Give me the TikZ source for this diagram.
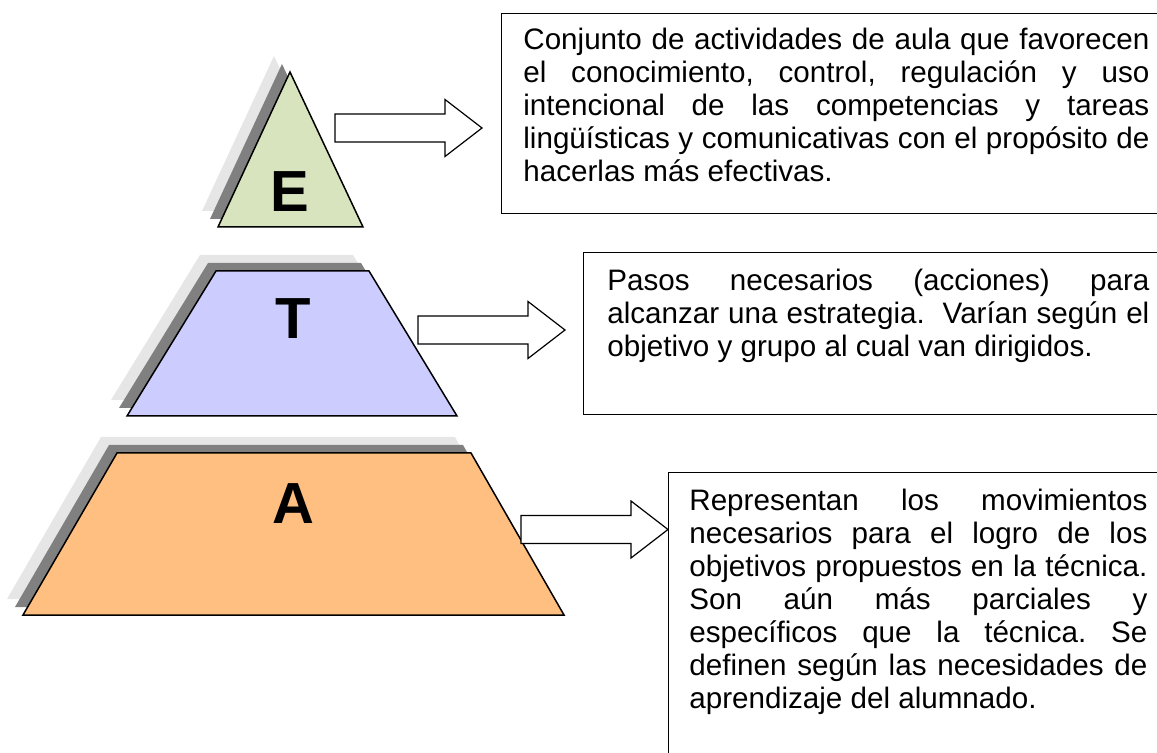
\documentclass[tikz,border=0pt]{standalone}
\usepackage{fontspec}
\setmainfont{Liberation Sans}
\usetikzlibrary{positioning}
\definecolor{fillE}{HTML}{D7E4BD}
\definecolor{fillT}{HTML}{CCCCFF}
\definecolor{fillA}{HTML}{FFBF80}
\definecolor{shadowgray}{HTML}{808080}
\definecolor{shadowlight}{HTML}{E6E6E6}
\tolerance=10000
\hbadness=10000
\frenchspacing
\tikzset{
  level/.style={draw,line width=0.75pt,line join=miter},
  letter/.style={font=\fontsize{29}{30}\selectfont\bfseries},
  infobox/.style={draw,line width=0.7pt,anchor=north west,inner sep=0pt},
  boxtext/.style={inner sep=0pt,align=justify,font=\fontsize{14.8}{16.5}\selectfont},
  pics/bigarrow/.style={code={
    \draw[line width=0.6pt,fill=white,line join=miter]
      (0,-14) -- (110,-14) -- (110,-28.5) -- (147,0) -- (110,28.5) -- (110,14) -- (0,14) -- cycle;}}
}
\begin{document}
\begin{tikzpicture}[x=0.5pt,y=-0.5pt]
\useasboundingbox (0,0) rectangle (1157,753);
\clip (0,0) rectangle (1157,753);

% shadows behind the three levels
\foreach \off/\col in {16/shadowlight,8/shadowgray} {
  \fill[\col,shift={(-\off,-\off)}] (290,72) -- (363,227) -- (218,227) -- cycle;
  \fill[\col,shift={(-\off,-\off)}] (216,271) -- (369,271) -- (457,416) -- (127,416) -- cycle;
  \fill[\col,shift={(-\off,-\off)}] (117,453) -- (471,453) -- (564,615) -- (23,615) -- cycle;
}

% levels
\path[level,fill=fillE] (290,72) -- (363,227) -- (218,227) -- cycle;
\path[level,fill=fillT] (216,271) -- (369,271) -- (457,416) -- (127,416) -- cycle;
\path[level,fill=fillA] (117,453) -- (471,453) -- (564,615) -- (23,615) -- cycle;
\node[letter] (letterE) at (290,192) {E};
\node[letter] (letterT) at (293,319) {T};
\node[letter] (letterA) at (293,504) {A};

% arrows
\pic at (335,128) {bigarrow};
\pic at (418,330) {bigarrow};
\pic at (521,529.5) {bigarrow};

% boxes
\node[infobox,minimum width=334pt,minimum height=100pt] (boxE) at (501,13) {};
\node[infobox,minimum width=292pt,minimum height=81pt] (boxT) at (583,252) {};
\node[infobox,minimum width=250pt,minimum height=150pt] (boxA) at (668,472) {};

\node[boxtext,text width=313pt,below right=7.5pt and 11pt of boxE.north west] (textE) {%
Conjunto de actividades de aula que favorecen\linebreak
el conocimiento, control, regulación y uso\linebreak
intencional de las competencias y tareas\linebreak
lingüísticas y comunicativas con el propósito de\linebreak
hacerlas más efectivas.};
\node[boxtext,text width=271pt,below right=8.5pt and 12pt of boxT.north west] (textT) {%
Pasos necesarios (acciones) para\linebreak
alcanzar una estrategia.\ \ Varían según el\linebreak
objetivo y grupo al cual van dirigidos.};
\node[boxtext,text width=229pt,below right=8.5pt and 10.5pt of boxA.north west] (textA) {%
Representan los movimientos\linebreak
necesarios para el logro de los\linebreak
objetivos propuestos en la técnica.\linebreak
Son aún más parciales y\linebreak
específicos que la técnica. Se\linebreak
definen según las necesidades de\linebreak
aprendizaje del alumnado.};
\end{tikzpicture}
\end{document}
